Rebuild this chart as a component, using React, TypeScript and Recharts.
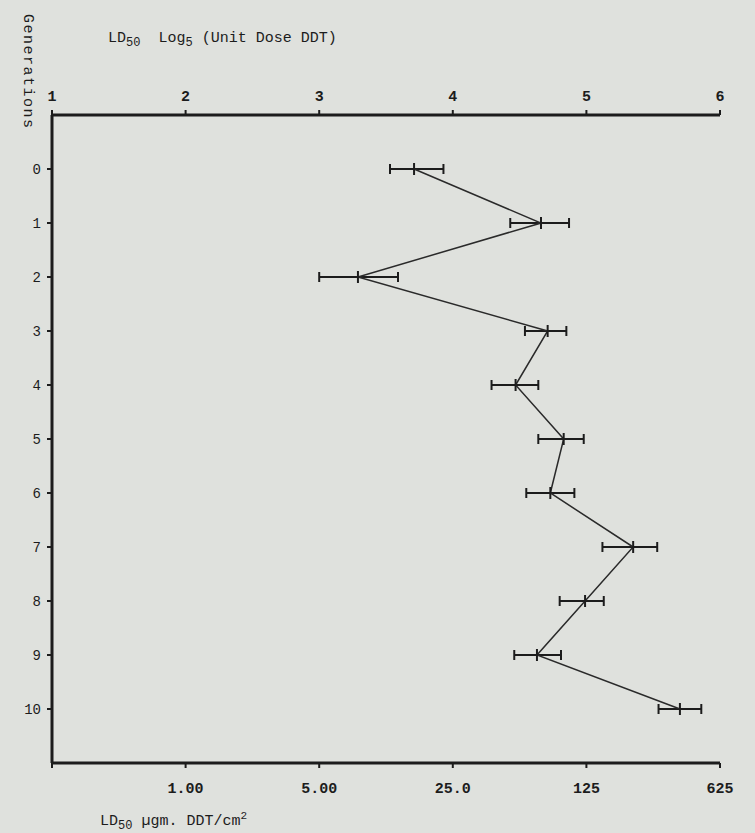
import { ErrorBar, Scatter, ScatterChart, XAxis, YAxis } from "recharts";

const generations = [0, 1, 2, 3, 4, 5, 6, 7, 8, 9, 10];
const ld50Log5 = [3.71, 4.66, 3.29, 4.71, 4.47, 4.83, 4.73, 5.35, 4.99, 4.63, 5.7];
const lowerLog5 = [3.53, 4.43, 3.0, 4.54, 4.29, 4.64, 4.55, 5.12, 4.8, 4.46, 5.54];
const upperLog5 = [3.93, 4.87, 3.59, 4.85, 4.64, 4.98, 4.91, 5.53, 5.13, 4.81, 5.86];

const logTicks = [1, 2, 3, 4, 5, 6];
const topTickLabels = ["1", "2", "3", "4", "5", "6"];
const bottomTickLabels = ["", "1.00", "5.00", "25.0", "125", "625"];

const data = generations.map((g, i) => ({
  gen: g,
  dose: ld50Log5[i],
  err: [ld50Log5[i] - lowerLog5[i], upperLog5[i] - ld50Log5[i]],
}));

const ink = "#1c1c1c";
const font = "'Liberation Mono', monospace";

const CenterMark = (props: any) => {
  const { cx, cy } = props;
  return <line x1={cx} y1={cy - 6} x2={cx} y2={cy + 6} stroke={ink} strokeWidth={2} />;
};

const NoMark = () => <g />;

export default function App() {
  return (
    <div
      style={{
        position: "absolute",
        left: 0,
        top: 0,
        width: 755,
        height: 833,
        background: "#dfe1dd",
        fontFamily: font,
        color: ink,
      }}
    >
      <ScatterChart width={755} height={833} margin={{ top: 70, right: 35, bottom: 30, left: 0 }}>
        <XAxis
          xAxisId="top"
          orientation="top"
          type="number"
          dataKey="dose"
          domain={[1, 6]}
          ticks={logTicks}
          tickFormatter={(v: number) => topTickLabels[logTicks.indexOf(v)]}
          height={45}
          tickSize={5}
          tickMargin={9}
          axisLine={{ stroke: ink, strokeWidth: 3 }}
          tickLine={{ stroke: ink, strokeWidth: 2 }}
          tick={{ fill: ink, fontSize: 15, fontFamily: font, fontWeight: "bold" }}
          allowDataOverflow
        />
        <XAxis
          xAxisId="bottom"
          orientation="bottom"
          type="number"
          dataKey="dose"
          domain={[1, 6]}
          ticks={logTicks}
          tickFormatter={(v: number) => bottomTickLabels[logTicks.indexOf(v)]}
          height={40}
          tickSize={5}
          tickMargin={14}
          axisLine={{ stroke: ink, strokeWidth: 3 }}
          tickLine={{ stroke: ink, strokeWidth: 2 }}
          tick={{ fill: ink, fontSize: 15, fontFamily: font, fontWeight: "bold" }}
          allowDataOverflow
        />
        <YAxis
          type="number"
          dataKey="gen"
          domain={[-1, 11]}
          ticks={generations}
          reversed
          width={52}
          tickSize={5}
          tickMargin={6}
          axisLine={{ stroke: ink, strokeWidth: 3 }}
          tickLine={{ stroke: ink, strokeWidth: 2 }}
          tick={{ fill: ink, fontSize: 14, fontFamily: font }}
          allowDataOverflow
        />
        <Scatter
          data={data}
          xAxisId="bottom"
          shape={<NoMark />}
          legendType="none"
          isAnimationActive={false}
        />
        <Scatter
          data={data}
          xAxisId="top"
          line={{ stroke: "#2a2a2a", strokeWidth: 1.5 }}
          lineType="joint"
          shape={<CenterMark />}
          isAnimationActive={false}
        >
          <ErrorBar dataKey="err" direction="x" width={5} stroke={ink} strokeWidth={2} isAnimationActive={false} />
        </Scatter>
      </ScatterChart>

      <div style={{ position: "absolute", left: 108, top: 30, fontSize: 15, whiteSpace: "pre" }}>
        LD<sub style={{ fontSize: 12 }}>50</sub>  Log<sub style={{ fontSize: 12 }}>5</sub> (Unit Dose DDT)
      </div>
      <div
        style={{
          position: "absolute",
          left: 19,
          top: 14,
          writingMode: "vertical-rl",
          fontSize: 15,
          letterSpacing: 1.5,
        }}
      >
        Generations
      </div>
      <div style={{ position: "absolute", left: 100, top: 810, fontSize: 15, whiteSpace: "pre" }}>
        LD<sub style={{ fontSize: 12 }}>50</sub> µgm. DDT/cm<sup style={{ fontSize: 11 }}>2</sup>
      </div>
    </div>
  );
}
